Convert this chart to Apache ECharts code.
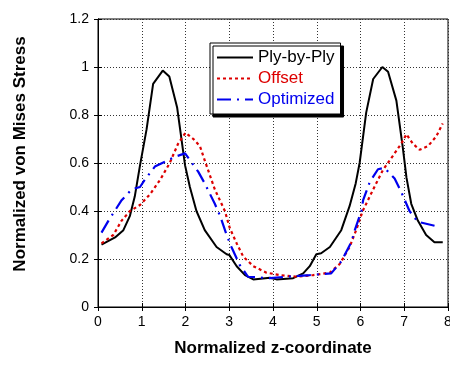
<!DOCTYPE html>
<html>
<head>
<meta charset="utf-8">
<script src="https://cdn.jsdelivr.net/npm/echarts@6/dist/echarts.min.js"></script>
<style>
  html, body { margin: 0; padding: 0; background: #fff; }
  #chart { width: 450px; height: 365px; }
</style>
</head>
<body>
<div id="chart"></div>
<script>
// values
const plyX = [0.08, 0.39, 0.58, 0.73, 0.84, 0.96, 1.11, 1.26, 1.48, 1.63, 1.81, 1.99, 2.1, 2.25, 2.44, 2.71, 2.94, 3.0, 3.17, 3.36, 3.55, 3.93, 4.08, 4.46, 4.69, 4.84, 4.99, 5.1, 5.3, 5.56, 5.75, 5.89, 5.98, 6.13, 6.29, 6.5, 6.63, 6.82, 6.97, 7.05, 7.16, 7.31, 7.5, 7.69, 7.88];
const plyY = [0.26, 0.29, 0.32, 0.38, 0.46, 0.59, 0.74, 0.93, 0.985, 0.96, 0.83, 0.59, 0.5, 0.4, 0.32, 0.25, 0.22, 0.217, 0.17, 0.133, 0.115, 0.122, 0.115, 0.12, 0.14, 0.17, 0.22, 0.224, 0.25, 0.32, 0.42, 0.515, 0.6, 0.81, 0.95, 1.0, 0.98, 0.86, 0.66, 0.54, 0.43, 0.36, 0.3, 0.27, 0.27];

const offX = [0.08, 0.35, 0.54, 0.73, 0.96, 1.19, 1.42, 1.64, 1.83, 2.0, 2.18, 2.33, 2.46, 2.67, 2.9, 3.01, 3.17, 3.32, 3.55, 3.85, 4.16, 4.54, 4.92, 5.3, 5.53, 5.75, 5.9, 6.05, 6.29, 6.51, 6.74, 6.93, 7.05, 7.2, 7.35, 7.54, 7.73, 7.88];
const offY = [0.265, 0.3, 0.36, 0.4, 0.425, 0.47, 0.53, 0.6, 0.68, 0.726, 0.7, 0.67, 0.6, 0.49, 0.4, 0.33, 0.265, 0.21, 0.17, 0.143, 0.133, 0.126, 0.133, 0.143, 0.18, 0.25, 0.32, 0.4, 0.49, 0.57, 0.63, 0.68, 0.72, 0.68, 0.655, 0.67, 0.71, 0.765];

const optX = [0.08, 0.24, 0.54, 0.77, 0.96, 1.07, 1.3, 1.76, 1.99, 2.29, 2.44, 2.67, 2.79, 2.94, 3.05, 3.24, 3.43, 3.93, 4.16, 4.61, 4.84, 5.33, 5.56, 5.79, 5.87, 6.02, 6.06, 6.21, 6.4, 6.55, 6.78, 6.93, 7.12, 7.31, 7.73];
const optY = [0.31, 0.36, 0.445, 0.49, 0.5, 0.53, 0.585, 0.626, 0.64, 0.564, 0.515, 0.43, 0.38, 0.3, 0.25, 0.175, 0.126, 0.12, 0.124, 0.13, 0.133, 0.14, 0.19, 0.27, 0.32, 0.4, 0.445, 0.52, 0.574, 0.58, 0.535, 0.48, 0.4, 0.355, 0.337];

const seriesNames = ['Ply-by-Ply', 'Offset', 'Optimized'];
const seriesColors = ['#000000', '#dd0000', '#0000ee'];

const pairs = (xs, ys) => xs.map((x, i) => [x, ys[i]]);

const chart = echarts.init(document.getElementById('chart'));

const tickFont = { fontFamily: 'Liberation Sans, Arial, sans-serif', fontSize: 14, color: '#000' };
const splitDotted = { show: true, lineStyle: { type: [1, 2], color: '#333', width: 1 } };

chart.setOption({
  animation: false,
  backgroundColor: '#fff',
  textStyle: { fontFamily: 'Liberation Sans, Arial, sans-serif' },
  grid: {
    left: 98,
    right: 2,
    top: 19,
    bottom: 58,
    containLabel: false,
    outerBoundsMode: 'none',
    show: true,
    borderColor: '#000',
    borderWidth: 1,
  },
  legend: {
    orient: 'vertical',
    left: 210,
    top: 43,
    padding: [6, 6, 6, 6],
    itemWidth: 36,
    itemHeight: 14,
    itemGap: 4,
    itemStyle: { opacity: 0 },
    backgroundColor: '#fff',
    borderColor: '#000',
    borderWidth: 1,
    shadowColor: '#000',
    shadowBlur: 0,
    shadowOffsetX: 3,
    shadowOffsetY: 3,
    data: seriesNames.map((n, i) => ({
      name: n,
      textStyle: { color: seriesColors[i], fontSize: 17, fontFamily: 'Liberation Sans, Arial, sans-serif' },
    })),
  },
  xAxis: [
    {
      type: 'value',
      min: 0,
      max: 8,
      interval: 1,
      name: 'Normalized z-coordinate',
      nameLocation: 'middle',
      nameGap: 33,
      nameTextStyle: { fontSize: 17, fontWeight: 'bold', color: '#000' },
      axisLine: { show: true, lineStyle: { color: '#000' } },
      axisTick: { show: true, inside: true, length: 4, lineStyle: { color: '#000' } },
      axisLabel: Object.assign({ margin: 8 }, tickFont),
      splitLine: splitDotted,
    },
    {
      type: 'value',
      position: 'top',
      min: 0,
      max: 8,
      interval: 1,
      axisLine: { show: true, lineStyle: { color: '#000' } },
      axisTick: { show: true, inside: true, length: 4, lineStyle: { color: '#000' } },
      axisLabel: { show: false },
      splitLine: { show: false },
    },
  ],
  yAxis: [
    {
      type: 'value',
      min: 0,
      max: 1.2,
      interval: 0.2,
      axisLine: { show: true, lineStyle: { color: '#000' } },
      axisTick: { show: true, inside: true, length: 4, lineStyle: { color: '#000' } },
      axisLabel: Object.assign({ margin: 9 }, tickFont),
      splitLine: splitDotted,
    },
    {
      type: 'value',
      position: 'right',
      min: 0,
      max: 1.2,
      interval: 0.2,
      axisLine: { show: true, lineStyle: { color: '#000' } },
      axisTick: { show: true, inside: true, length: 4, lineStyle: { color: '#000' } },
      axisLabel: { show: false },
      splitLine: { show: false },
    },
  ],
  graphic: [
    {
      type: 'text',
      x: 20,
      y: 154,
      rotation: Math.PI / 2,
      style: {
        text: 'Normalized von Mises Stress',
        fontSize: 17,
        fontWeight: 'bold',
        fontFamily: 'Liberation Sans, Arial, sans-serif',
        fill: '#000',
        align: 'center',
        verticalAlign: 'middle',
      },
    },
  ],
  series: [
    {
      name: seriesNames[0],
      type: 'line',
      symbol: 'none',
      color: seriesColors[0],
      lineStyle: { width: 2, color: seriesColors[0], type: 'solid' },
      data: pairs(plyX, plyY),
    },
    {
      name: seriesNames[1],
      type: 'line',
      symbol: 'none',
      color: seriesColors[1],
      lineStyle: { width: 2.2, color: seriesColors[1], type: [3, 3] },
      data: pairs(offX, offY),
    },
    {
      name: seriesNames[2],
      type: 'line',
      symbol: 'none',
      color: seriesColors[2],
      lineStyle: { width: 2.2, color: seriesColors[2], type: [14, 6, 2, 6] },
      data: pairs(optX, optY),
    },
  ],
});
</script>
</body>
</html>
